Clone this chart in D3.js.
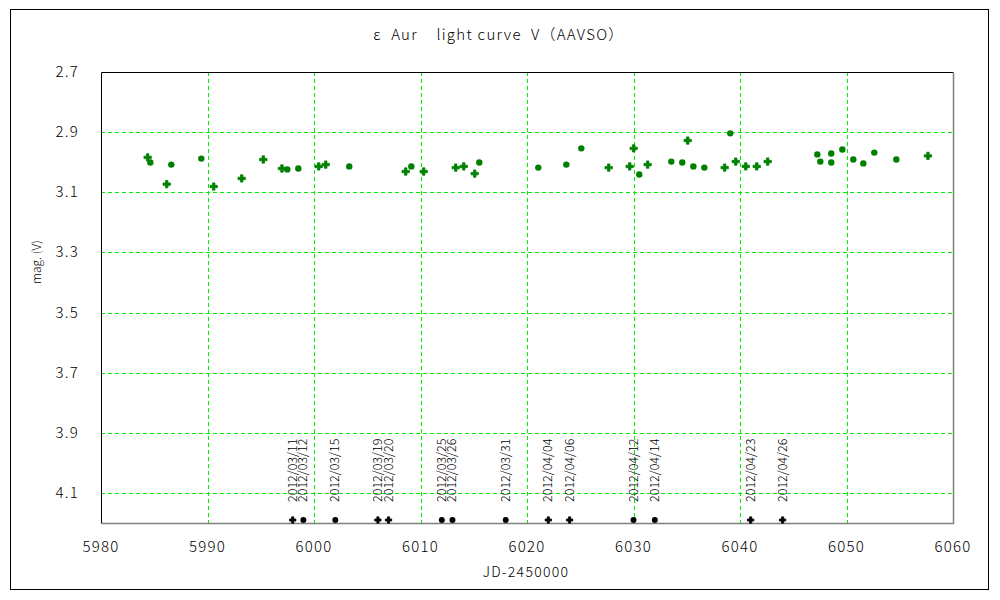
<!DOCTYPE html>
<html>
<head>
<meta charset="utf-8">
<script src="https://cdn.jsdelivr.net/npm/d3@7"></script>
<style>
body { margin: 0; background: #fff; }
text { font-family: "Noto Sans CJK JP", "DejaVu Sans", sans-serif; fill: #000; font-weight: 300; }
</style>
</head>
<body>
<svg width="1000" height="600"></svg>
<script>
// observations, circle markers (JD-2450000, V mag)
var circleJD = [5984.63, 5986.60, 5989.42, 5997.49, 5998.53, 6003.31, 6009.14, 6015.52, 6021.06,
    6023.69, 6025.10, 6030.54, 6033.55, 6034.58, 6035.62, 6036.65, 6039.09, 6047.26, 6047.54,
    6048.57, 6048.57, 6049.61, 6050.64, 6051.58, 6052.61, 6054.68];
var circleMag = [3.001, 3.008, 2.988, 3.024, 3.021, 3.014, 3.014, 3.001, 3.018,
    3.008, 2.954, 3.041, 2.998, 3.001, 3.014, 3.018, 2.904, 2.974, 2.998,
    2.971, 3.001, 2.958, 2.991, 3.004, 2.968, 2.991];

// observations, cross markers
var crossJD = [5984.38, 5986.17, 5990.58, 5993.21, 5995.24, 5996.99, 6000.44, 6001.10, 6008.61,
    6010.30, 6013.31, 6014.06, 6015.09, 6027.67, 6029.64, 6030.02, 6031.33, 6035.09, 6038.56,
    6039.60, 6040.54, 6041.57, 6042.60, 6057.65];
var crossMag = [2.984, 3.073, 3.081, 3.054, 2.991, 3.021, 3.014, 3.008, 3.031,
    3.031, 3.018, 3.014, 3.038, 3.018, 3.014, 2.954, 3.008, 2.928, 3.018,
    2.998, 3.014, 3.014, 2.998, 2.979];

// calendar dates marked along the bottom
var dateLabels = ["2012/03/11", "2012/03/12", "2012/03/15", "2012/03/19", "2012/03/20",
    "2012/03/25", "2012/03/26", "2012/03/31", "2012/04/04", "2012/04/06",
    "2012/04/12", "2012/04/14", "2012/04/23", "2012/04/26"];
var dateJD = [5998, 5999, 6002, 6006, 6007, 6012, 6013, 6018, 6022, 6024, 6030, 6032, 6041, 6044];
var dateCross = [1, 0, 0, 1, 1, 0, 0, 0, 1, 1, 0, 0, 1, 1];

var xTicks = [5980, 5990, 6000, 6010, 6020, 6030, 6040, 6050, 6060];
var yTicks = [2.7, 2.9, 3.1, 3.3, 3.5, 3.7, 3.9, 4.1];

var svg = d3.select("svg");
var pLeft = 101, pRight = 953, pTop = 72, pBottom = 523;

var x = d3.scaleLinear().domain([5980, 6060]).range([pLeft, pRight]);
var y = d3.scaleLinear().domain([2.7, 4.2]).range([pTop, pBottom]);

// outer frame
svg.append("rect")
    .attr("x", 10.5).attr("y", 9.5)
    .attr("width", 978).attr("height", 580)
    .attr("fill", "none").attr("stroke", "#000");

// grid
svg.selectAll(".vgrid")
    .data(xTicks.slice(1, -1))
    .enter()
    .append("line")
    .attr("x1", function (d) { return Math.round(x(d)) + 0.5; })
    .attr("x2", function (d) { return Math.round(x(d)) + 0.5; })
    .attr("y1", pTop).attr("y2", pBottom)
    .attr("stroke", "#00ee00")
    .attr("stroke-dasharray", "4,3");

svg.selectAll(".hgrid")
    .data(yTicks.slice(1))
    .enter()
    .append("line")
    .attr("y1", function (d) { return Math.round(y(d)) + 0.5; })
    .attr("y2", function (d) { return Math.round(y(d)) + 0.5; })
    .attr("x1", pLeft).attr("x2", pRight)
    .attr("stroke", "#00ee00")
    .attr("stroke-dasharray", "4,3");

// plot frame: dark top/left, grey bottom/right
svg.append("path")
    .attr("d", "M" + (pLeft + 0.5) + "," + (pBottom + 0.5) + "V" + (pTop + 0.5) + "H" + (pRight + 0.5))
    .attr("fill", "none").attr("stroke", "#000");
svg.append("path")
    .attr("d", "M" + (pLeft + 0.5) + "," + (pBottom + 0.5) + "H" + (pRight + 0.5) + "V" + (pTop + 0.5))
    .attr("fill", "none").attr("stroke", "#808080").attr("stroke-width", 1.5);

// tick labels
svg.selectAll(".xlab")
    .data(xTicks)
    .enter()
    .append("text")
    .attr("x", function (d) { return x(d); })
    .attr("y", 552)
    .attr("text-anchor", "middle")
    .attr("font-size", 15)
    .attr("letter-spacing", 1.2)
    .text(function (d) { return d; });

svg.selectAll(".ylab")
    .data(yTicks)
    .enter()
    .append("text")
    .attr("x", 79)
    .attr("y", function (d) { return y(d) + 5; })
    .attr("text-anchor", "end")
    .attr("font-size", 15)
    .attr("letter-spacing", 1.2)
    .text(function (d) { return d.toFixed(1); });

// titles
svg.append("text")
    .attr("x", 499).attr("y", 40)
    .attr("text-anchor", "middle")
    .attr("font-size", 15)
    .attr("letter-spacing", 1.3)
    .style("white-space", "pre")
    .text("ε  Aur    light curve  V（AAVSO）");

svg.append("text")
    .attr("x", 526).attr("y", 577)
    .attr("text-anchor", "middle")
    .attr("font-size", 14)
    .attr("letter-spacing", 1.3)
    .text("JD-2450000");

svg.append("text")
    .attr("transform", "translate(41,262) rotate(-90)")
    .attr("text-anchor", "middle")
    .attr("font-size", 12)
    .style("white-space", "pre")
    .text("mag. (V)");

// data marks
var cross = d3.symbol().type(d3.symbolCross).size(30);

svg.selectAll(".obs-c")
    .data(d3.zip(circleJD, circleMag))
    .enter()
    .append("circle")
    .attr("cx", function (d) { return x(d[0]); })
    .attr("cy", function (d) { return y(d[1]); })
    .attr("r", 3.2)
    .attr("fill", "#008000");

svg.selectAll(".obs-x")
    .data(d3.zip(crossJD, crossMag))
    .enter()
    .append("path")
    .attr("d", cross)
    .attr("transform", function (d) { return "translate(" + x(d[0]) + "," + y(d[1]) + ")"; })
    .attr("fill", "#008000")
    .attr("stroke", "#008000")
    .attr("stroke-width", 0.8);

// date markers
var dates = dateJD.map(function (d, i) { return { jd: d, label: dateLabels[i], cross: dateCross[i] }; });

svg.selectAll(".dmark")
    .data(dates)
    .enter()
    .append("path")
    .attr("d", function (d) {
        return d.cross ? d3.symbol().type(d3.symbolCross).size(22)() : d3.symbol().type(d3.symbolCircle).size(28)();
    })
    .attr("transform", function (d) { return "translate(" + x(d.jd) + ",520)"; })
    .attr("fill", "#000")
    .attr("stroke", "#000")
    .attr("stroke-width", function (d) { return d.cross ? 0.8 : 0; });

svg.selectAll(".dlab")
    .data(dates)
    .enter()
    .append("text")
    .attr("transform", function (d) { return "translate(" + (x(d.jd) + 4) + ",502) rotate(-90)"; })
    .attr("font-size", 12.5)
    .text(function (d) { return d.label; });
</script>
</body>
</html>
